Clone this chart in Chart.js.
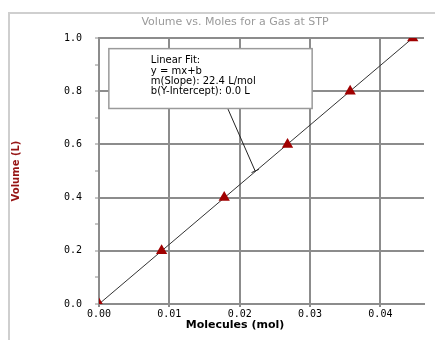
<!DOCTYPE html>
<html>
<head>
<meta charset="utf-8">
<script src="https://cdn.jsdelivr.net/npm/chart.js@4/dist/chart.umd.min.js"></script>
<style>
  html, body { margin: 0; padding: 0; background: #fff; }
  #wrap { width: 435px; height: 340px; }
</style>
</head>
<body>
<div id="wrap"><canvas id="chart" width="435" height="340"></canvas></div>
<script>
// Messwerte: Stoffmenge (mol) gegen Volumen (L)
const molesX = [0, 0.0089, 0.0178, 0.0268, 0.0357, 0.0446];
const volumeY = [0, 0.2, 0.4, 0.6, 0.8, 1.0];

// lineare Anpassung y = 22.4 x + 0
const fitX = [0, 0.0446];
const fitY = [0, 1.0];

const chartTitle = 'Volume vs. Moles for a Gas at STP';
const xTitle = 'Molecules (mol)';
const yTitle = 'Volume (L)';
const fitLines = ['Linear Fit:', 'y = mx+b', 'm(Slope): 22.4 L/mol', 'b(Y-Intercept): 0.0 L'];

const GRID = '#8c8c8c';
const MARK = 'rgb(160, 0, 0)';

// Rahmen, Titel und Fit-Kasten
const decorPlugin = {
    id: 'decor',
    beforeDraw(chart) {
        const ctx = chart.ctx;
        ctx.save();
        ctx.strokeStyle = '#cfcfcf';
        ctx.lineWidth = 2;
        ctx.strokeRect(9, 13, chart.width + 20, chart.height + 20);
        ctx.fillStyle = '#9a9a9a';
        ctx.font = '11px "DejaVu Sans"';
        ctx.textAlign = 'center';
        ctx.textBaseline = 'middle';
        ctx.fillText(chartTitle, 235, 22);
        ctx.fillStyle = '#000';
        ctx.font = 'bold 11px "DejaVu Sans"';
        ctx.fillText(xTitle, 235, 325);
        ctx.restore();
    },
    // Dreiecke am Rand der Zeichenflaeche abschneiden
    beforeDatasetDraw(chart, args) {
        if (args.index !== 1) return;
        const a = chart.chartArea;
        chart.ctx.save();
        chart.ctx.beginPath();
        chart.ctx.rect(a.left, a.top, a.right - a.left, a.bottom - a.top);
        chart.ctx.clip();
    },
    afterDatasetDraw(chart, args) {
        if (args.index === 1) chart.ctx.restore();
    },
    afterDatasetsDraw(chart) {
        const ctx = chart.ctx;
        const xs = chart.scales.x, ys = chart.scales.y;
        const bx1 = xs.getPixelForValue(0.0014), bx2 = xs.getPixelForValue(0.0303);
        const by1 = ys.getPixelForValue(0.96), by2 = ys.getPixelForValue(0.735);
        // Verbindungslinie zur Geraden
        const lx1 = xs.getPixelForValue(0.0183), ly1 = by2;
        const lx2 = xs.getPixelForValue(0.0222), ly2 = ys.getPixelForValue(0.50);
        ctx.save();
        ctx.strokeStyle = '#222';
        ctx.lineWidth = 1;
        ctx.beginPath();
        ctx.moveTo(lx1, ly1);
        ctx.lineTo(lx2, ly2);
        const dx = lx2 - lx1, dy = ly2 - ly1, len = Math.hypot(dx, dy);
        const px = -dy / len * 4, py = dx / len * 4;
        ctx.moveTo(lx2 - px, ly2 - py);
        ctx.lineTo(lx2 + px, ly2 + py);
        ctx.stroke();

        ctx.fillStyle = '#fff';
        ctx.fillRect(bx1, by1, bx2 - bx1, by2 - by1);
        ctx.strokeStyle = '#9a9a9a';
        ctx.lineWidth = 1.5;
        ctx.strokeRect(bx1, by1, bx2 - bx1, by2 - by1);

        ctx.fillStyle = '#000';
        ctx.font = '10px "DejaVu Sans"';
        ctx.textAlign = 'left';
        ctx.textBaseline = 'middle';
        fitLines.forEach((t, i) => ctx.fillText(t, bx1 + 42, by1 + 12 + i * 10.4));
        ctx.restore();
    }
};

const ctx = document.getElementById('chart');
new Chart(ctx, {
    data: {
        datasets: [{
            type: 'line',
            data: fitX.map((x, i) => ({ x: x, y: fitY[i] })),
            borderColor: '#333',
            borderWidth: 1,
            pointRadius: 0,
            fill: false,
            order: 2
        }, {
            type: 'scatter',
            data: molesX.map((x, i) => ({ x: x, y: volumeY[i] })),
            pointStyle: 'triangle',
            pointRadius: 6.5,
            backgroundColor: MARK,
            borderColor: MARK,
            borderWidth: 0,
            order: 1
        }]
    },
    options: {
        responsive: false,
        animation: false,
        layout: { padding: { top: 38, left: 8, right: 11, bottom: 0 } },
        plugins: { legend: { display: false }, tooltip: { enabled: false }, title: { display: false } },
        scales: {
            x: {
                type: 'linear',
                min: 0,
                max: 0.0462,
                afterFit: s => { s.height = 36; },
                border: { color: GRID, width: 2 },
                grid: { color: GRID, lineWidth: 2, tickLength: 3 },
                ticks: {
                    stepSize: 0.01,
                    includeBounds: false,
                    maxRotation: 0,
                    autoSkip: false,
                    padding: 1,
                    color: '#000',
                    font: { family: '"DejaVu Sans Mono"', size: 10 },
                    callback: v => v.toFixed(2)
                }
            },
            y: {
                type: 'linear',
                min: 0,
                max: 1.0,
                afterFit: s => { s.width = 91; },
                border: { color: GRID, width: 2 },
                grid: {
                    color: c => (Math.round(c.tick.value * 10) % 2 === 0 ? GRID : 'transparent'),
                    tickColor: GRID,
                    lineWidth: 2,
                    tickWidth: 1,
                    tickLength: 4
                },
                title: {
                    display: true,
                    text: yTitle,
                    color: 'rgb(150, 20, 20)',
                    font: { family: '"DejaVu Sans"', size: 10, weight: 'bold' },
                    padding: { top: 2, bottom: 0 }
                },
                ticks: {
                    stepSize: 0.1,
                    autoSkip: false,
                    padding: 13,
                    color: '#000',
                    font: { family: '"DejaVu Sans Mono"', size: 10 },
                    callback: v => (Math.round(v * 10) % 2 === 0 ? v.toFixed(1) : '')
                }
            }
        }
    },
    plugins: [decorPlugin]
});
</script>
</body>
</html>
